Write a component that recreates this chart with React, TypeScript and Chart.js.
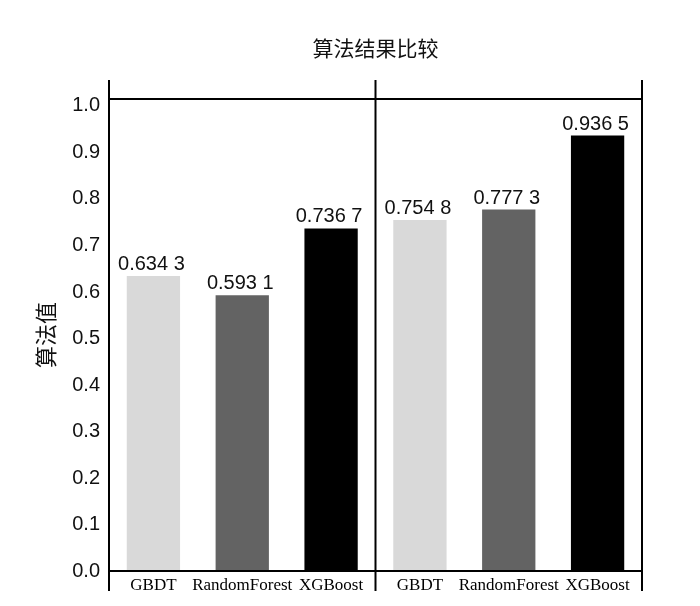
import React, { useEffect, useRef } from "react";
import { Chart, registerables } from "chart.js";

Chart.register(...registerables);

const chartTitle = "算法结果比较";
const yAxisTitle = "算法值";
const algorithms = ["GBDT", "RandomForest", "XGBoost"];
const leftGroupValues = [0.6343, 0.5931, 0.7367];
const rightGroupValues = [0.7548, 0.7773, 0.9365];
const barColors = ["#d9d9d9", "#636363", "#000000"];
const yTickValues = [0, 0.1, 0.2, 0.3, 0.4, 0.5, 0.6, 0.7, 0.8, 0.9, 1.0];

const categories = [...algorithms, ...algorithms];
const values = [...leftGroupValues, ...rightGroupValues];
const colors = [...barColors, ...barColors];

function formatValue(v: number): string {
  const s = v.toFixed(4);
  return s.slice(0, s.length - 1) + " " + s.slice(s.length - 1);
}

const framePlugin = {
  id: "frame",
  afterDatasetsDraw(chart: any) {
    const { ctx, chartArea, scales } = chart;
    const x = scales.x;
    const n = categories.length;
    const mid = (x.getPixelForValue(n / 2 - 1) + x.getPixelForValue(n / 2)) / 2;
    const ext = 19;
    ctx.save();
    ctx.strokeStyle = "#000";
    ctx.lineWidth = 2;
    ctx.beginPath();
    for (const xx of [chartArea.left, mid, chartArea.right]) {
      ctx.moveTo(xx, chartArea.top - ext);
      ctx.lineTo(xx, chartArea.bottom + ext + 1);
    }
    ctx.moveTo(chartArea.left, chartArea.top);
    ctx.lineTo(chartArea.right, chartArea.top);
    ctx.moveTo(chartArea.left, chartArea.bottom);
    ctx.lineTo(chartArea.right, chartArea.bottom);
    ctx.stroke();
    ctx.restore();
  },
};

const valueLabelPlugin = {
  id: "valueLabels",
  afterDatasetsDraw(chart: any) {
    const { ctx } = chart;
    const meta = chart.getDatasetMeta(0);
    ctx.save();
    ctx.fillStyle = "#111";
    ctx.font = '20px "Liberation Sans", Arial, sans-serif';
    ctx.textAlign = "center";
    ctx.textBaseline = "alphabetic";
    meta.data.forEach((bar: any, i: number) => {
      ctx.fillText(formatValue(values[i]), bar.x - 2, bar.y - 6);
    });
    ctx.restore();
  },
};

export default function App() {
  const canvasRef = useRef<HTMLCanvasElement | null>(null);

  useEffect(() => {
    if (!canvasRef.current) return;
    const chart = new Chart(canvasRef.current, {
      type: "bar",
      data: {
        labels: categories,
        datasets: [
          {
            data: values,
            backgroundColor: colors,
            borderWidth: 0,
            categoryPercentage: 0.6,
            barPercentage: 1,
          },
        ],
      },
      options: {
        responsive: false,
        animation: false,
        devicePixelRatio: 1,
        layout: { padding: { left: 0, right: 58, top: 0, bottom: 0 } },
        plugins: {
          legend: { display: false },
          tooltip: { enabled: false },
          title: {
            display: true,
            text: chartTitle,
            fullSize: false,
            color: "#111",
            font: { family: '"Noto Sans CJK SC", sans-serif', size: 21, weight: "normal" },
            padding: { top: 35, bottom: 38.8 },
          },
        },
        scales: {
          x: {
            grid: { display: false, drawTicks: false },
            border: { display: false },
            ticks: {
              color: "#000",
              padding: 4,
              maxRotation: 0,
              autoSkip: false,
              font: { family: '"Liberation Serif", "Times New Roman", serif', size: 17 },
            },
            afterFit(scale: any) {
              scale.height = 35;
            },
          },
          y: {
            min: 0,
            max: 1.015,
            grid: { display: false, drawTicks: false },
            border: { display: false },
            afterBuildTicks(scale: any) {
              scale.ticks = yTickValues.map((v) => ({ value: v }));
            },
            ticks: {
              color: "#111",
              padding: 9,
              font: { family: '"Liberation Sans", Arial, sans-serif', size: 20 },
              callback: (v: any) => Number(v).toFixed(1),
            },
            title: {
              display: true,
              text: yAxisTitle,
              color: "#111",
              font: { family: '"Noto Sans CJK SC", sans-serif', size: 22, weight: "normal" },
              padding: { top: 32, bottom: 0 },
            },
            afterFit(scale: any) {
              scale.width = 109;
            },
          },
        },
      },
      plugins: [framePlugin, valueLabelPlugin],
    });
    return () => chart.destroy();
  }, []);

  return (
    <div style={{ position: "absolute", left: 0, top: 0, width: 700, height: 606, background: "#fff" }}>
      <canvas ref={canvasRef} width={700} height={606} style={{ display: "block" }} />
    </div>
  );
}
